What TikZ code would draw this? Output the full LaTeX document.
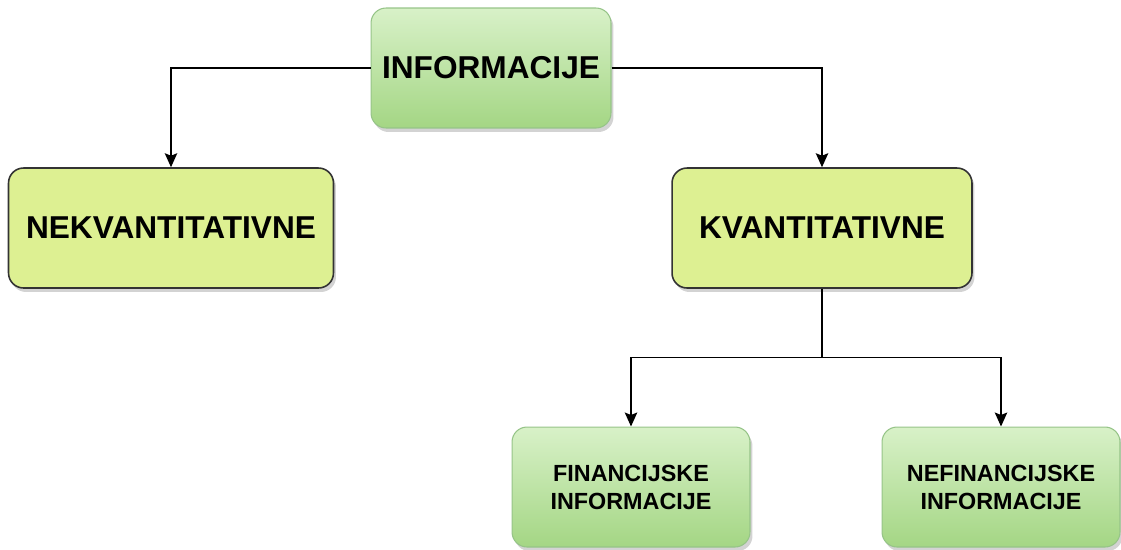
\documentclass[tikz,border=0pt]{standalone}
\usepackage{fontspec}
\setmainfont{Liberation Sans}
\usetikzlibrary{positioning,shadows,arrows.meta}
\definecolor{svijetla}{RGB}{216,241,200}
\definecolor{tamna}{RGB}{164,214,132}
\definecolor{zuta}{RGB}{221,240,146}
\definecolor{rubz}{RGB}{150,196,136}
\begin{document}
\begin{tikzpicture}[x=0.02cm,y=-0.02cm]
			\useasboundingbox(0,0)rectangle(1121,549);
			\tikzset{zel/.style={draw=rubz,line width=0.6pt,rectangle,rounded corners=3mm,top color=svijetla,bottom color=tamna,
					minimum height=2.4cm,font=\bfseries,align=center,drop shadow={shadow xshift=0.5mm,shadow yshift=-0.8mm,opacity=0.35}},
				zut/.style={draw=black!80,line width=0.9pt,rectangle,rounded corners=3mm,fill=zuta,
					minimum height=2.4cm,font=\bfseries\fontsize{18}{21}\selectfont,drop shadow={shadow xshift=0.5mm,shadow yshift=-0.8mm,opacity=0.35}},
				s/.style={-{Stealth[length=2.8mm,width=2.5mm,inset=0.5mm]},line width=0.75pt}}
			\node[zel,minimum width=4.8cm,font=\bfseries\fontsize{18}{21}\selectfont](I)at(491,68){INFORMACIJE};
			\node[zut,minimum width=6.5cm](N)at(171,228){NEKVANTITATIVNE};
			\node[zut,minimum width=6cm](K)at(822,228){KVANTITATIVNE};
			\node[zel,minimum width=4.76cm,font=\bfseries\fontsize{13.3}{16}\selectfont](F)at(631,487){FINANCIJSKE\\INFORMACIJE};
			\node[zel,minimum width=4.76cm,font=\bfseries\fontsize{13.3}{16}\selectfont](NF)at(1001,487){NEFINANCIJSKE\\INFORMACIJE};
			\draw[s](I.west)-|(N.north);
			\draw[s](I.east)-|(K.north);
			\draw[line width=0.75pt](K.south)--++(0,69)coordinate(M);
			\foreach \y in {F,NF}
			\draw[s](M)-|(\y.north);
		\end{tikzpicture}
\end{document}
